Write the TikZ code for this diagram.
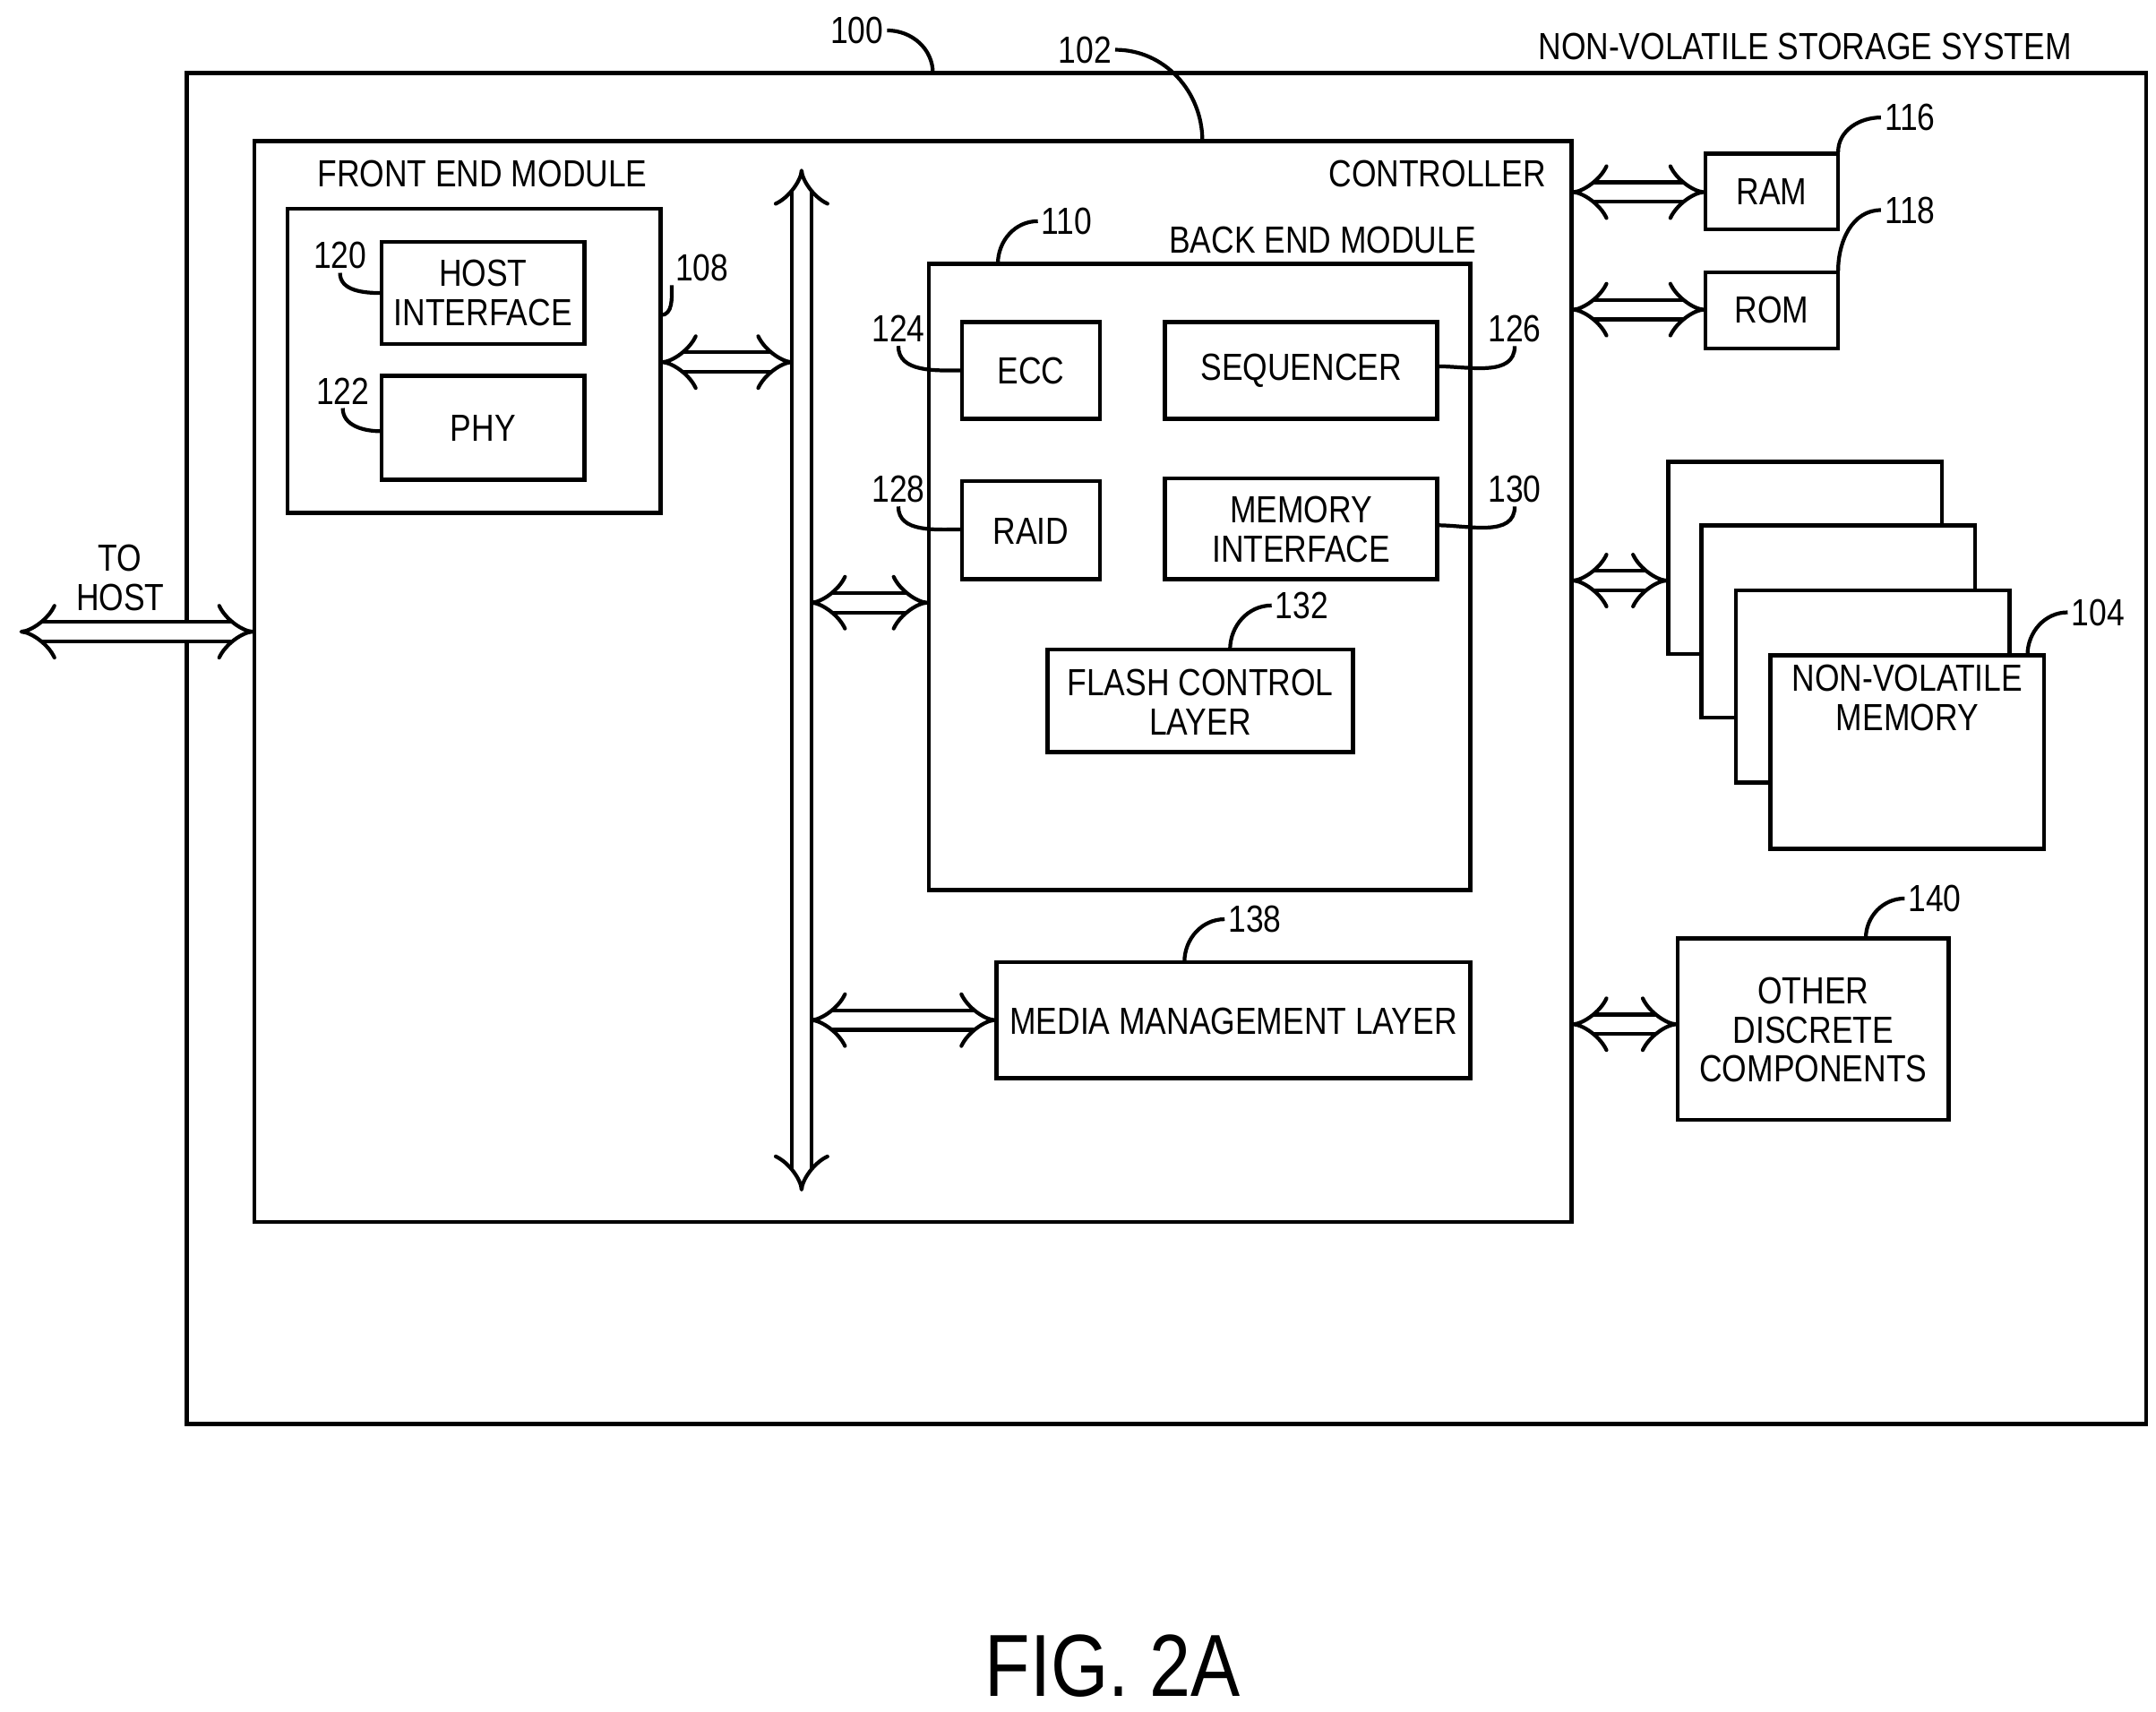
\documentclass[tikz,border=0pt]{standalone}
\usepackage{fontspec}
\setmainfont[FakeStretch=0.84]{Liberation Sans}
\usetikzlibrary{arrows.meta}
\tikzset{%
  lbl/.style   = {font=\fontsize{12}{12.5}\selectfont, align=center, inner sep=1pt},
  bus/.style   = {line width=1.2pt, double distance=5pt,
                  {Implies[length=6pt,width=14pt]}-{Implies[length=6pt,width=14pt]}},
  lead/.style  = {line width=1.2pt},
  frame/.style = {line width=1.3pt}
}
\begin{document}
\begin{tikzpicture}[x=0.01543cm, y=-0.01543cm]
\useasboundingbox (0,0) rectangle (1560,1238);
% outer boxes
\draw[frame] (135,53) rectangle (1553,1030);
\draw[frame] (184,102) rectangle (1137,884);
\node[lbl] (sysname) at (1306,34) {NON-VOLATILE STORAGE SYSTEM};
\node[lbl] (ctrlname) at (1040,126) {CONTROLLER};
% front end
\draw[frame] (208,151) rectangle (478,371);
\node[lbl] (fename) at (349,126) {FRONT END MODULE};
\draw[frame] (276,175) rectangle (423,249);
\node[lbl] (hostif) at (349.5,212) {HOST\\INTERFACE};
\draw[frame] (276,272) rectangle (423,347);
\node[lbl] (phy) at (349.5,310) {PHY};
% back end
\draw[frame] (672,191) rectangle (1064,644);
\node[lbl] (bename) at (957,174) {BACK END MODULE};
\draw[frame] (696,233) rectangle (796,303);
\node[lbl] (ecc) at (746,268) {ECC};
\draw[frame] (843,233) rectangle (1040,303);
\node[lbl] (seq) at (941.5,268) {SEQUENCER};
\draw[frame] (696,348) rectangle (796,419);
\node[lbl] (raid) at (746,384) {RAID};
\draw[frame] (843,346) rectangle (1040,419);
\node[lbl] (memif) at (941.5,383) {MEMORY\\INTERFACE};
\draw[frame] (758,470) rectangle (979,544);
\node[lbl] (fcl) at (868.5,508) {FLASH CONTROL\\LAYER};
% media management
\draw[frame] (721,696) rectangle (1064,780);
\node[lbl] (mml) at (892.5,739) {MEDIA MANAGEMENT LAYER};
% outside controller
\draw[frame] (1234,111) rectangle (1330,166);
\node[lbl] (ram) at (1282,139) {RAM};
\draw[frame] (1234,197) rectangle (1330,252);
\node[lbl] (rom) at (1282,224) {ROM};
\foreach \dx/\dy in {0/0,24/46,49/93}
  \draw[frame, fill=white] (1207+\dx,334+\dy) rectangle (1405+\dx,473+\dy);
\draw[frame, fill=white] (1281,474) rectangle (1479,614);
\node[lbl] (nvm) at (1380,505) {NON-VOLATILE\\MEMORY};
\draw[frame] (1214,679) rectangle (1410,810);
\node[lbl] (odc) at (1312,745) {OTHER\\DISCRETE\\COMPONENTS};
\node[lbl] (tohost) at (87,418) {TO\\HOST};
% buses
\coordinate (bust) at (580,122);
\coordinate (busb) at (580,862);
\draw[bus] (bust) -- (busb);
\coordinate (fe) at (478,262);  \coordinate (fb) at (574,262);
\draw[bus] (fe) -- (fb);
\coordinate (b1) at (586,436);  \coordinate (be) at (672,436);
\draw[bus] (b1) -- (be);
\coordinate (b2) at (586,738);  \coordinate (mm) at (721,738);
\draw[bus] (b2) -- (mm);
\foreach \y/\xe [count=\i] in {139/1234,224/1234,420/1207,741/1214}{
  \coordinate (c\i) at (1137,\y); \coordinate (e\i) at (\xe,\y);
  \draw[bus] (c\i) -- (e\i);
}
\coordinate (hl) at (14,457); \coordinate (hr) at (184,457);
\draw[bus] (hl) -- (hr);
% reference numerals
\node[lbl] (n100) at (620,22) {100};
\node[lbl] (n102) at (785,36) {102};
\node[lbl] (n108) at (508,194) {108};
\node[lbl] (n110) at (772,160) {110};
\node[lbl] (n120) at (246,185) {120};
\node[lbl] (n122) at (248,283) {122};
\node[lbl] (n124) at (650,238) {124};
\node[lbl] (n126) at (1096,238) {126};
\node[lbl] (n128) at (650,354) {128};
\node[lbl] (n130) at (1096,354) {130};
\node[lbl] (n132) at (942,438) {132};
\node[lbl] (n138) at (908,665) {138};
\node[lbl] (n116) at (1382,85) {116};
\node[lbl] (n118) at (1382,152) {118};
\node[lbl] (n104) at (1518,443) {104};
\node[lbl] (n140) at (1400,650) {140};
\draw[lead] (n100.east) to[out=0,in=90] (675,53);
\draw[lead] (n102.east) to[out=0,in=90] (870,102);
\draw[lead] (n108.south west) to[out=-90,in=0] (478,228);
\draw[lead] (n110.west) to[out=180,in=90] (722,191);
\draw[lead] (n120.south) to[out=-90,in=180] (276,212);
\draw[lead] (n122.south) to[out=-90,in=180] (276,312);
\draw[lead] (n124.south) to[out=-90,in=180] (696,268);
\draw[lead] (n126.south) to[out=-90,in=0] (1040,265);
\draw[lead] (n128.south) to[out=-90,in=180] (696,383);
\draw[lead] (n130.south) to[out=-90,in=0] (1040,380);
\draw[lead] (n132.west) to[out=180,in=90] (890,470);
\draw[lead] (n138.west) to[out=180,in=90] (857,696);
\draw[lead] (n116.west) to[out=180,in=90] (1330,110);
\draw[lead] (n118.west) to[out=180,in=90] (1330,196);
\draw[lead] (n104.west) to[out=180,in=90] (1467,474);
\draw[lead] (n140.west) to[out=180,in=90] (1350,679);
% caption
\node[font=\fontsize{28}{30}\selectfont] (fig) at (805,1205) {FIG. 2A};
\end{tikzpicture}
\end{document}
